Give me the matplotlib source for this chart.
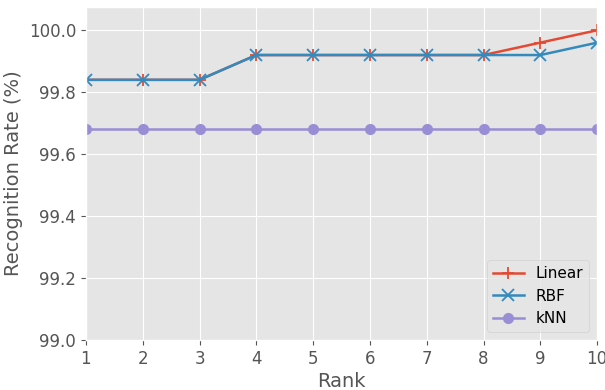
import matplotlib
matplotlib.use("Agg")
import matplotlib.pyplot as plt

ranks = [1, 2, 3, 4, 5, 6, 7, 8, 9, 10]
linear = [99.84, 99.84, 99.84, 99.92, 99.92, 99.92, 99.92, 99.92, 99.96, 100.0]
rbf = [99.84, 99.84, 99.84, 99.92, 99.92, 99.92, 99.92, 99.92, 99.92, 99.96]
knn = [99.68, 99.68, 99.68, 99.68, 99.68, 99.68, 99.68, 99.68, 99.68, 99.68]

plt.style.use("ggplot")
fig, ax = plt.subplots(figsize=(6.05, 3.9), dpi=100)

ax.plot(ranks, linear, marker="+", markersize=9, markeredgewidth=1.3, linewidth=1.8, label="Linear")
ax.plot(ranks, rbf, marker="x", markersize=8, markeredgewidth=1.3, linewidth=1.8, label="RBF")
ax.plot(ranks, knn, marker="o", markersize=7, linewidth=1.8, label="kNN")

ax.set_xlim(1, 10)
ax.set_ylim(99.0, 100.075)
ax.set_xticks(ranks)
ax.set_xlabel("Rank", fontsize=14, labelpad=3)
ax.set_ylabel("Recognition Rate (%)", fontsize=14)
ax.tick_params(labelsize=12)
ax.legend(loc="lower right", fontsize=11)

plt.subplots_adjust(left=0.142, right=0.987, top=0.982, bottom=0.128)
plt.savefig("out.png")
